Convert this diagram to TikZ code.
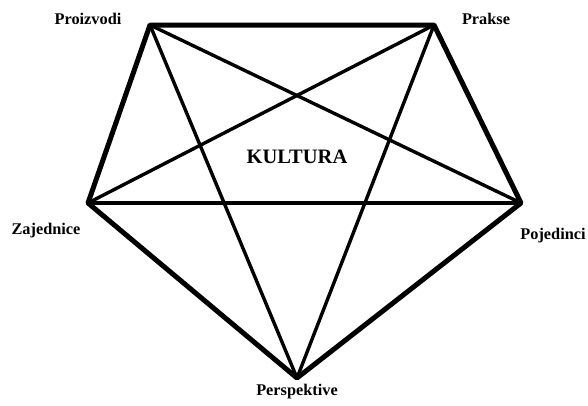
\documentclass[tikz,border=0pt]{standalone}
\usepackage{fontspec}
\setmainfont{Liberation Serif}
\begin{document}
\begin{tikzpicture}[x=1pt,y=-1pt,
  outer/.style={line width=5pt,line join=round,line cap=round},
  diag/.style={line width=3.4pt,line cap=round},
  lbl/.style={font=\bfseries\fontsize{16.3}{18}\selectfont,inner sep=0pt}]
\useasboundingbox (0,0) rectangle (588,405);
\coordinate (A) at (150,25);
\coordinate (B) at (434,25);
\coordinate (C) at (521,203);
\coordinate (D) at (297,378);
\coordinate (E) at (88,203);
\draw[outer] (A) -- (B) -- (C) -- (D) -- (E) -- cycle;
\draw[diag] (A) -- (C);
\draw[diag] (A) -- (D);
\draw[diag] (B) -- (E);
\draw[diag] (B) -- (D);
\draw[diag] (E) -- (C);
\node[lbl] (pr) at (88,19) {Proizvodi};
\node[lbl] (pk) at (486,19) {Prakse};
\node[lbl] (za) at (46,231) {Zajednice};
\node[lbl] (po) at (553,236) {Pojedinci};
\node[lbl] (pe) at (297,392) {Perspektive};
\node[font=\bfseries\fontsize{20.5}{22}\selectfont,inner sep=0pt] (ku) at (297,157) {KULTURA};
\end{tikzpicture}
\end{document}
